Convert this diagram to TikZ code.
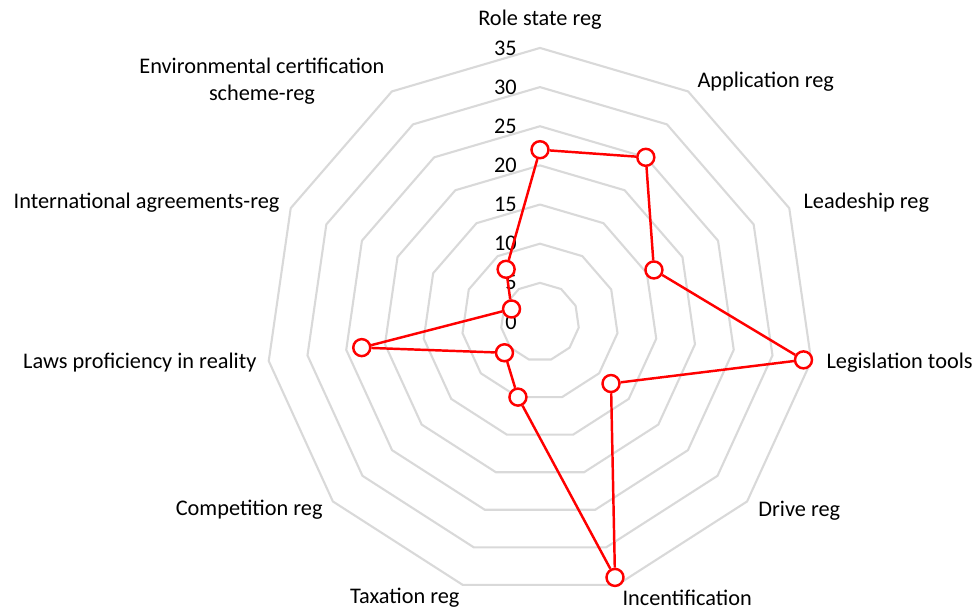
\documentclass[tikz,border=0pt]{standalone}
\usepackage{fontspec}
\setmainfont{Carlito}
\usetikzlibrary{positioning}

\definecolor{gridgray}{RGB}{217,217,217}
\definecolor{seriesred}{RGB}{255,0,0}

\tikzset{
  ring/.style={draw=gridgray, line width=1.2pt, line join=round},
  series/.style={draw=seriesred, line width=1.4pt},
  dot/.style={circle, draw=seriesred, fill=white, line width=1.4pt, inner sep=0pt, minimum size=0.34cm},
  axislabel/.style={font=\fontsize{12.7}{15.5}\selectfont, inner sep=0pt},
  ticklabel/.style={font=\fontsize{12.7}{15.5}\selectfont, inner sep=0pt, anchor=east},
}

\begin{document}
\begin{tikzpicture}

    \useasboundingbox (-10.8,-5.78) rectangle (8.7,6.44);

    % rings
    \foreach \r in {5,10,...,35}
        \draw[ring] (90:\r*0.1566) \foreach \k in {1,...,10} { -- ({90-\k*360/11}:\r*0.1566) } -- cycle;

    % axis ends
    \foreach \n [count=\k from 0] in {rs,app,lead,legis,drive,incent,tax,comp,laws,intl,env}
        \coordinate (\n) at ({90-\k*360/11}:5.481);

    % scale
    \foreach \r in {0,5,...,35}
        \node[ticklabel] at (-0.46,\r*0.1566) {\r};

    % labels
    \node[axislabel] (l-rs) at ([yshift=0.56cm]rs) {Role state reg};
    \node[axislabel, anchor=west] (l-app) at ([shift={(0.18,0.19)}]app) {Application reg};
    \node[axislabel, anchor=west] (l-lead) at ([shift={(0.28,0.1)}]lead) {Leadeship reg};
    \node[axislabel, anchor=west] (l-legis) at ([shift={(0.3,-0.04)}]legis) {Legislation tools};
    \node[axislabel, anchor=west] (l-drive) at ([shift={(0.22,-0.19)}]drive) {Drive reg};
    \node[axislabel, anchor=west] (l-incent) at ([shift={(0.1,-0.26)}]incent) {Incentification};
    \node[axislabel, anchor=east] (l-tax) at ([shift={(-0.06,-0.26)}]tax) {Taxation reg};
    \node[axislabel, anchor=east] (l-comp) at ([shift={(-0.2,-0.17)}]comp) {Competition reg};
    \node[axislabel, anchor=east] (l-laws) at ([shift={(-0.24,-0.04)}]laws) {Laws proficiency in reality};
    \node[axislabel, anchor=east] (l-intl) at ([shift={(-0.22,0.1)}]intl) {International agreements-reg};
    \node[axislabel, anchor=east, align=center] (l-env) at ([shift={(-0.14,0.21)}]env) {Environmental certification\\scheme-reg};

    % data
    \foreach \v [count=\k from 0] in {22,25,16,34,12,34,10,6,23,4,8}
        \node[dot] (d\k) at ({90-\k*360/11}:\v*0.1566) {};

    \draw[series] (d0) -- (d1) -- (d2) -- (d3) -- (d4) -- (d5) -- (d6) -- (d7) -- (d8) -- (d9) -- (d10) -- (d0);

\end{tikzpicture}
\end{document}
